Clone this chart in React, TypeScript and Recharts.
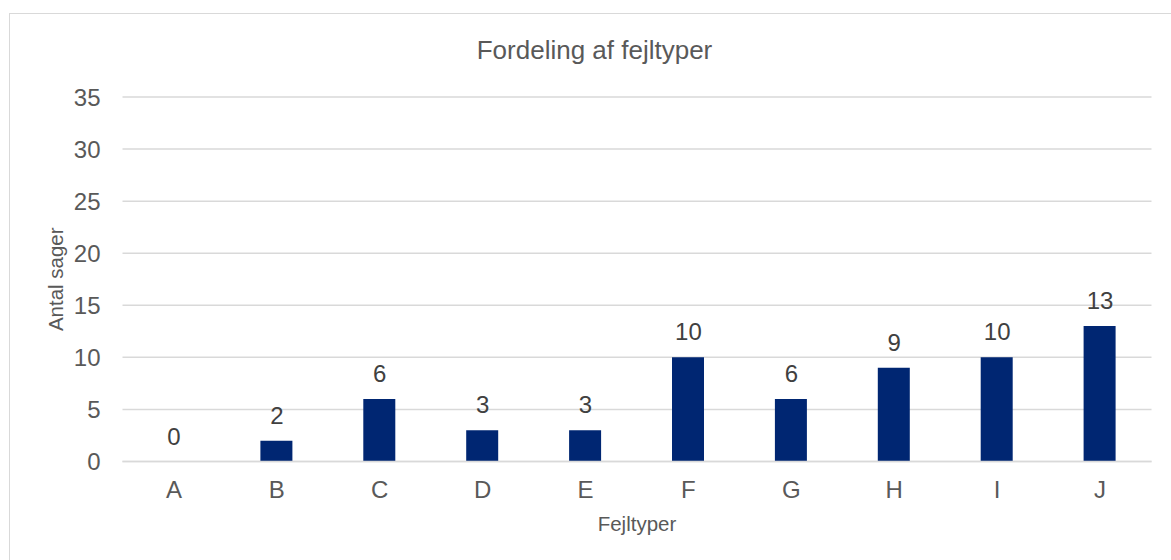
import React from 'react';
import { ComposedChart, Bar, Line, XAxis, YAxis, CartesianGrid } from 'recharts';

// Fejltyper og antal sager
const categories = ['A', 'B', 'C', 'D', 'E', 'F', 'G', 'H', 'I', 'J'];
const antalSager = [0, 2, 6, 3, 3, 10, 6, 9, 10, 13];
const yTicks = [0, 5, 10, 15, 20, 25, 30, 35];

const FONT = '"Liberation Sans", Arial, sans-serif';
const GRID = '#d9d9d9';
const TEXT = '#595959';

// værdi over søjlen, også når den er 0 (Bar springer tomme søjler over)
const renderValue = (props: any) => {
  const { x, y, value, index } = props;
  return (
    <text
      key={`lbl-${index}`}
      x={Number(x)}
      y={Number(y) - 17}
      textAnchor="middle"
      fill="#404040"
      fontSize={24}
      fontFamily={FONT}
    >
      {value}
    </text>
  );
};

export default function App() {
  const data = categories.map((name, i) => ({ name, value: antalSager[i] }));

  return (
    <div
      style={{
        position: 'absolute',
        left: 0,
        top: 0,
        width: 1171,
        height: 560,
        overflow: 'hidden',
        background: '#fff',
        fontFamily: FONT,
      }}
    >
      {/* ramme */}
      <div
        style={{
          position: 'absolute',
          left: 9,
          top: 13,
          width: 1200,
          height: 600,
          border: `1px solid ${GRID}`,
        }}
      />
      <div style={{ position: 'absolute', left: 0, top: 0 }}>
        <ComposedChart
          width={1171}
          height={560}
          data={data}
          margin={{ top: 97, right: 19.5, bottom: 0, left: 0 }}
        >
          <CartesianGrid vertical={false} stroke={GRID} strokeWidth={1.5} />
          <XAxis
            dataKey="name"
            height={98.5}
            tickSize={0}
            tickMargin={19}
            axisLine={{ stroke: GRID, strokeWidth: 1.5 }}
            tickLine={false}
            tick={{ fill: TEXT, fontSize: 24, fontFamily: FONT }}
            label={{
              value: 'Fejltyper',
              position: 'insideBottom',
              offset: 29,
              fill: TEXT,
              fontSize: 20.5,
              fontFamily: FONT,
            }}
          />
          <YAxis
            width={122.5}
            domain={[0, 35]}
            ticks={yTicks}
            tickSize={0}
            tickMargin={22}
            axisLine={false}
            tickLine={false}
            tick={{ fill: TEXT, fontSize: 24, fontFamily: FONT }}
            label={{
              value: 'Antal sager',
              angle: -90,
              position: 'insideLeft',
              offset: 56,
              fill: TEXT,
              fontSize: 20.5,
              fontFamily: FONT,
              style: { textAnchor: 'middle' },
            }}
          />
          <Bar dataKey="value" fill="#002672" barSize={32} isAnimationActive={false} />
          <Line
            dataKey="value"
            stroke="none"
            dot={false}
            activeDot={false}
            legendType="none"
            label={renderValue}
            isAnimationActive={false}
          />
        </ComposedChart>
      </div>
      <svg
        width={1171}
        height={70}
        style={{ position: 'absolute', left: 0, top: 0, pointerEvents: 'none' }}
      >
        <text x={594.5} y={59} textAnchor="middle" fill={TEXT} fontSize={26} fontFamily={FONT}>
          Fordeling af fejltyper
        </text>
      </svg>
    </div>
  );
}
